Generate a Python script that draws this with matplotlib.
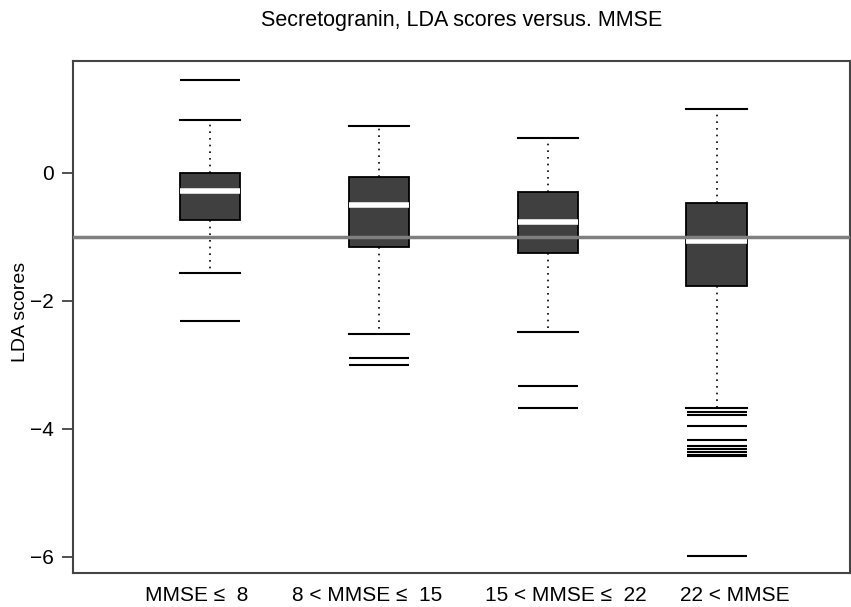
import matplotlib
matplotlib.use('Agg')
import matplotlib.pyplot as plt

plt.rcParams['font.family'] = ['Liberation Sans', 'DejaVu Sans']

# groups and box statistics
groups = ['MMSE \u2264  8', '8 < MMSE \u2264  15', '15 < MMSE \u2264  22', '22 < MMSE']
q1 = [-0.73, -1.16, -1.25, -1.77]
med = [-0.29, -0.51, -0.77, -1.06]
q3 = [0.00, -0.07, -0.30, -0.47]
whislo = [-1.56, -2.52, -2.49, -3.68]
whishi = [0.83, 0.73, 0.55, 1.00]
fliers = [
    [1.45, -2.31],
    [-2.89, -3.00],
    [-3.33, -3.67],
    [-3.73, -3.78, -3.95, -4.18, -4.27, -4.32, -4.36, -4.40, -4.43, -5.99],
]
ref_line = -1.0

stats = []
for i in range(len(groups)):
    stats.append(dict(label=groups[i], med=med[i], q1=q1[i], q3=q3[i],
                      whislo=whislo[i], whishi=whishi[i], fliers=fliers[i]))

fig = plt.figure(figsize=(8.51, 6.07), dpi=100)
ax = fig.add_axes([0.0858, 0.056, 0.913, 0.844])

ax.bxp(stats, positions=[1, 2, 3, 4], widths=0.356, patch_artist=True,
       boxprops=dict(facecolor='#404040', edgecolor='black', linewidth=1.3),
       medianprops=dict(color='white', linewidth=4, solid_capstyle='butt'),
       whiskerprops=dict(color='black', linewidth=1.2, linestyle=(0, (1, 3))),
       capprops=dict(color='black', linewidth=1.5),
       capwidths=0.356,
       flierprops=dict(marker='_', markersize=43, markeredgewidth=1.5,
                       markeredgecolor='black', linestyle='none'))

ax.axhline(ref_line, color='#7f7f7f', linewidth=2.5, zorder=5)

ax.set_xlim(0.19, 4.79)
ax.set_ylim(-6.25, 1.75)
# labels in the original sit slightly off the box centres
ax.set_xticks([0.92, 1.93, 3.11, 4.11])
ax.set_xticklabels(groups)
ax.set_yticks([0, -2, -4, -6])
ax.set_yticklabels(['0', '\u22122', '\u22124', '\u22126'])
ax.tick_params(axis='y', length=8, width=1.2, pad=6, labelsize=15, color='#333333')
ax.tick_params(axis='x', length=0, pad=9.5, labelsize=15)

for s in ax.spines.values():
    s.set_color('#444444')
    s.set_linewidth(1.5)

ax.set_ylabel('LDA scores', fontsize=14)
ax.yaxis.set_label_coords(-0.057, 0.51)
ax.set_title('Secretogranin, LDA scores versus. MMSE', fontsize=15.5, pad=25)

fig.savefig('out.png', dpi=100)
